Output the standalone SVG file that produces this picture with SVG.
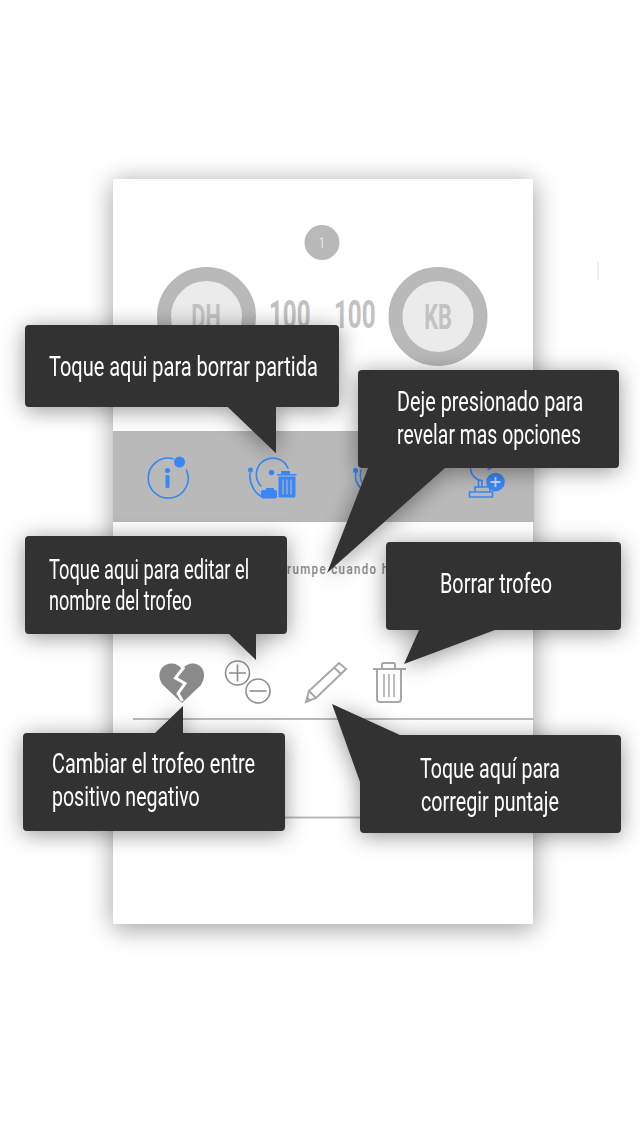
<svg xmlns="http://www.w3.org/2000/svg" width="640" height="1136" viewBox="0 0 640 1136">
<style>
.t{font-family:"Roboto","Liberation Sans",sans-serif;font-size:28px;fill:#fff}
.g{font-family:"Roboto","Liberation Sans",sans-serif;fill:#c2c2c2;font-weight:700}
.c{fill:#333}
.bl{fill:none;stroke:#3a86f5;stroke-width:1.6;stroke-linecap:round}
.bf{fill:#3a86f5}
.gs{fill:none;stroke:#a8a8a8;stroke-width:2}
.gs2{fill:none;stroke:#8e8e8e;stroke-width:1.6}
</style>
<defs>
<filter id="cs" x="-20%" y="-20%" width="140%" height="140%"><feGaussianBlur stdDeviation="13"/></filter>
<filter id="ds" x="-30%" y="-50%" width="160%" height="210%"><feDropShadow dx="0" dy="3" stdDeviation="11" flood-color="#000" flood-opacity="0.42"/></filter>
</defs>
<rect width="640" height="1136" fill="#fff"/>
<path d="M598 262V280" stroke="#e2e2e2" stroke-width="1"/>
<g id="card">
<rect x="113" y="182" width="421" height="747" fill="#000" opacity="0.38" filter="url(#cs)"/>
<rect x="113" y="179" width="420" height="745" fill="#fff"/>
</g>
<g id="badge"><circle cx="322" cy="242.500" r="17.500" fill="#b9b9b9"/><text x="322" y="248" text-anchor="middle" font-family="Roboto, sans-serif" font-size="15" transform="translate(322 0) scale(.7 1) translate(-322 0)" fill="#ebebeb">1</text></g>
<g id="player-dh"><circle cx="206.500" cy="316.500" r="42.500" fill="#ebebeb" stroke="#b9b9b9" stroke-width="14"/><text class="g" font-size="35" text-anchor="middle" transform="translate(206 328.500) scale(.62 1)">DH</text></g>
<g id="scores">
<text class="g" font-size="39" transform="translate(269 328) scale(.62 1)">100</text>
<text class="g" font-size="39" transform="translate(334 328) scale(.62 1)">100</text>
</g>
<g id="player-kb"><circle cx="438" cy="316.500" r="42.500" fill="#ebebeb" stroke="#b9b9b9" stroke-width="14"/><text class="g" font-size="35" text-anchor="middle" transform="translate(438 328.500) scale(.62 1)">KB</text></g>
<g id="toolbar">
<rect x="113" y="431" width="421" height="91" fill="#b9b9b9"/>
<g id="icon-info">
<path class="bl" d="M173 458.700A20 20 0 1 0 186.500 470" />
<circle class="bf" cx="179.500" cy="462" r="5.500"/>
<circle class="bf" cx="167.500" cy="470.500" r="2.500"/>
<rect class="bf" x="165.500" y="475" width="4" height="13" rx="1.500"/>
</g>
<g id="icon-delete">
<path class="bl" d="M261 486A16.500 16.500 0 1 1 288 468"/>
<path class="bl" d="M250 473C249 484 255 494 263 497"/>
<circle class="bf" cx="250.500" cy="470" r="2.500"/>
<circle class="bf" cx="271.500" cy="472.500" r="2.700"/>
<rect class="bf" x="261" y="490" width="16" height="8.500" rx="2"/>
<path class="bf" d="M266 488h8v3h-8z"/>
<path class="bf" d="M277 474h4v-2.500q0-.5 .5-.5h8q.5 0 .5 .5v2.500h6.500v1.500h-19.500z"/>
<path class="bf" d="M278.500 476.500h17v19.500q0 1.500-1.500 1.500h-14q-1.500 0-1.500-1.500z"/>
<path d="M283 479.500v15M287 479.500v15M291 479.500v15" stroke="#b9b9b9" stroke-width="1.100"/>
</g>
<g id="icon-third">
<circle class="bf" cx="355.500" cy="470.500" r="2.500"/>
<path class="bl" d="M356 473C354 481 359 488 366 492"/>
<path class="bl" d="M361 470C359 478 362 485 367 489"/>
</g>
<g id="icon-add">
<path class="bl" d="M470.500 469C471 475 476 480 482 480.500M488 469.500L491 468"/>
<path class="bl" d="M478.500 480.500V487M482 480.500V487"/>
<path class="bl" d="M475 492V487H490V492M469.500 492H492.500V497H469.500Z"/>
<circle class="bf" cx="495.500" cy="482" r="9.300"/>
<path d="M495.500 477v10M490.500 482h10" stroke="#c6d9f5" stroke-width="1.800"/>
</g>
</g>
<g id="trophy-row">
<text x="287" y="574" font-family="Roboto, sans-serif" font-weight="500" font-size="14" fill="#8a8a8a" transform="translate(287 574) scale(.82 1) translate(-287 -574)" style="letter-spacing:1.700px">rumpe cuando h</text>
<g id="icon-heart">
<path fill="#8a8a8a" d="M182 703L163 685C156 676 160 665 170 663.500C175 663 179 665 182 669C185 665 190 663 194 663.500C204 665 207 676 201 685Z"/>
<path d="M184 667L175.500 678L185 683.500L178 693.500L182.500 701" fill="none" stroke="#fff" stroke-width="3"/>
</g>
<g id="icon-plus-minus">
<circle class="gs2" cx="237.500" cy="673" r="12"/>
<path class="gs2" d="M229 673h17M237.500 664.500v17" stroke-width="2"/>
<circle cx="258" cy="691" r="12" fill="#fff" stroke="#8e8e8e" stroke-width="1.600"/>
<path class="gs2" d="M249.500 691h17" stroke-width="2"/>
</g>
<g id="icon-pencil">
<path class="gs" d="M306 702L309 691L339 663L346 669L316 698Z"/>
<path class="gs" d="M309 691L316 698M334 667.500L341 674"/>
<path d="M306 702L307 696L311 700Z" fill="#a8a8a8"/>
</g>
<g id="icon-trash">
<path class="gs" d="M373 669H406"/>
<path class="gs" d="M382 669V664.500Q382 663 383.500 663H393.500Q395 663 395 664.500V669"/>
<path class="gs" d="M377 669V699Q377 702 380 702H398Q401 702 401 699V669"/>
<path d="M384 674V697M389 674V697M394 674V697" stroke="#a8a8a8" stroke-width="1.500"/>
</g>
<rect x="133" y="718" width="401" height="2" fill="#bbb"/>
<rect x="133" y="816.500" width="401" height="2" fill="#bbb"/>
</g>
<g id="connectors">
<path class="c" d="M228 407L276 453V407Z"/>
</g>
<g id="callout-borrar-partida" filter="url(#ds)">
<path class="c" d="M29 325H335Q339 325 339 329V403Q339 407 335 407H276V453L228 407H29Q25 407 25 403V329Q25 325 29 325Z"/>
<text class="t" transform="translate(49 376) scale(.7 1)" textLength="384" lengthAdjust="spacingAndGlyphs">Toque aqui para borrar partida</text>
</g>
<g id="callout-opciones" filter="url(#ds)">
<path class="c" d="M362 370H615Q619 370 619 374V464Q619 468 615 468H445L327 573L368 468H362Q358 468 358 464V374Q358 370 362 370Z"/>
<text class="t" transform="translate(397 411) scale(.7 1)" textLength="266" lengthAdjust="spacingAndGlyphs">Deje presionado para</text>
<text class="t" transform="translate(397 444) scale(.7 1)" textLength="263" lengthAdjust="spacingAndGlyphs">revelar mas opciones</text>
</g>
<g id="callout-editar" filter="url(#ds)">
<path class="c" d="M29 536H283Q287 536 287 540V630Q287 634 283 634H256V660L229 634H29Q25 634 25 630V540Q25 536 29 536Z"/>
<text class="t" transform="translate(49 579) scale(.7 1)" textLength="286" lengthAdjust="spacingAndGlyphs">Toque aqui para editar el</text>
<text class="t" transform="translate(49 610) scale(.7 1)" textLength="204" lengthAdjust="spacingAndGlyphs">nombre del trofeo</text>
</g>
<g id="callout-borrar-trofeo" filter="url(#ds)">
<path class="c" d="M390 542H617Q621 542 621 546V626Q621 630 617 630H495L404 664L419 630H390Q386 630 386 626V546Q386 542 390 542Z"/>
<text class="t" transform="translate(440 593) scale(.7 1)" textLength="160" lengthAdjust="spacingAndGlyphs">Borrar trofeo</text>
</g>
<g id="callout-cambiar" filter="url(#ds)">
<path class="c" d="M27 733H155L183 706V733H281Q285 733 285 737V827Q285 831 281 831H27Q23 831 23 827V737Q23 733 27 733Z"/>
<text class="t" transform="translate(52 773) scale(.7 1)" textLength="290" lengthAdjust="spacingAndGlyphs">Cambiar el trofeo entre</text>
<text class="t" transform="translate(52 806) scale(.7 1)" textLength="211" lengthAdjust="spacingAndGlyphs">positivo negativo</text>
</g>
<g id="callout-puntaje" filter="url(#ds)">
<path class="c" d="M400 735H617Q621 735 621 739V829Q621 833 617 833H364Q360 833 360 829V782L332 704Z"/>
<text class="t" transform="translate(420 778) scale(.7 1)" textLength="200" lengthAdjust="spacingAndGlyphs">Toque aquí para</text>
<text class="t" transform="translate(421 811) scale(.7 1)" textLength="197" lengthAdjust="spacingAndGlyphs">corregir puntaje</text>
</g>
</svg>
